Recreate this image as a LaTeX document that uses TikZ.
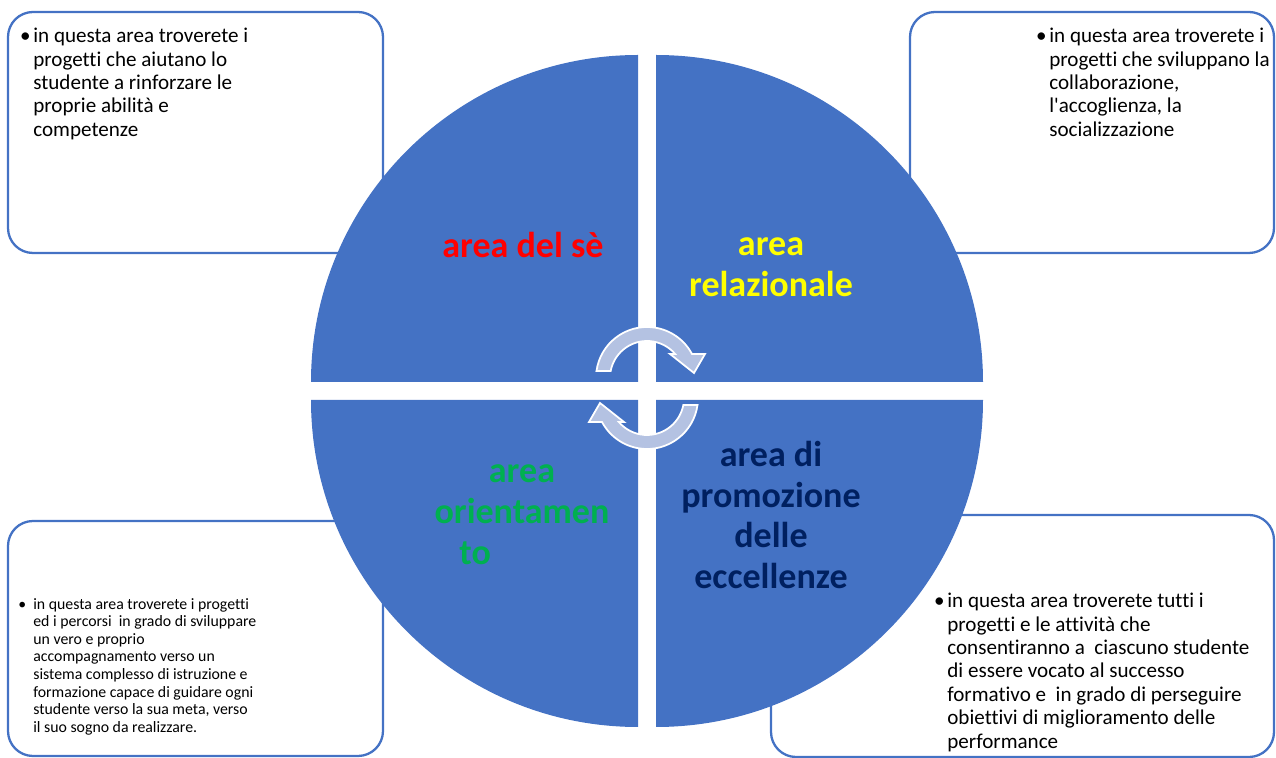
\documentclass[tikz,border=0pt]{standalone}
\usepackage{fontspec}
\setmainfont{Carlito}[Ligatures={TeX,NoCommon}]

\definecolor{quadblue}{HTML}{4472C4}
\definecolor{arrowlight}{HTML}{B4C2E2}
\definecolor{selfred}{HTML}{FF0000}
\definecolor{relyellow}{HTML}{FFFF00}
\definecolor{orientgreen}{HTML}{00B050}
\definecolor{excnavy}{HTML}{002060}

\tikzset{
  infobox/.style={draw=quadblue, line width=1.3pt, rounded corners=0.5cm},
  infotext/.style={anchor=north west, align=left, inner sep=0pt,
    font=\fontsize{12}{13.3}\selectfont},
  smalltext/.style={infotext, font=\fontsize{9}{10}\selectfont},
  arealabel/.style={align=center, inner sep=0pt,
    font=\bfseries\fontsize{20.5}{23.3}\selectfont},
  cyclearrow/.style={fill=arrowlight, draw=white, line width=1pt},
}

\begin{document}
\begin{tikzpicture}[x=0.02cm, y=0.02cm]
  \useasboundingbox (0,0) rectangle (1276,758);

  % Circle dimensions
  \pgfmathsetmacro{\rad}{327}
  \pgfmathsetmacro{\gapHalf}{9}
  \pgfmathsetmacro{\cx}{647}
  \pgfmathsetmacro{\cy}{367}

  % Text boxes (behind the circle)
  \draw[infobox] (8,505) rectangle (383,746);
  \draw[infobox] (910,505) rectangle (1274,746);
  \draw[infobox] (8,2) rectangle (383,237);
  \draw[infobox] (771,1) rectangle (1274,243);

  % Four quarters of the circle
  \fill[quadblue] ({\cx-\gapHalf},{\cy+\gapHalf}) -- ++(90:\rad)
    arc[start angle=90, end angle=180, radius=\rad] -- cycle; % top left
  \fill[quadblue] ({\cx+\gapHalf},{\cy+\gapHalf}) -- ++(0:\rad)
    arc[start angle=0, end angle=90, radius=\rad] -- cycle; % top right
  \fill[quadblue] ({\cx-\gapHalf},{\cy-\gapHalf}) -- ++(180:\rad)
    arc[start angle=180, end angle=270, radius=\rad] -- cycle; % bottom left
  \fill[quadblue] ({\cx+\gapHalf},{\cy-\gapHalf}) -- ++(270:\rad)
    arc[start angle=270, end angle=360, radius=\rad] -- cycle; % bottom right

  % Circular arrows in the middle
  \begin{scope}[shift={(647,380)}]
    \filldraw[cyclearrow] (172.1:51) arc[start angle=172.1, end angle=28.1, radius=51]
      -- (58,24) -- (47,5) -- (23,24) -- (40.4:37)
      arc[start angle=40.4, end angle=169.1, radius=37] -- cycle;
  \end{scope}
  \begin{scope}[shift={(647,360)}, rotate=180]
    \filldraw[cyclearrow] (172.1:51) arc[start angle=172.1, end angle=28.1, radius=51]
      -- (58,24) -- (47,5) -- (23,24) -- (40.4:37)
      arc[start angle=40.4, end angle=169.1, radius=37] -- cycle;
  \end{scope}

  % Area labels
  \node[arealabel, text=selfred] (self) at (523,513) {area del sè};
  \node[arealabel, text=relyellow] (relation) at (771,491) {area\\relazionale};
  \node[arealabel, text=orientgreen] (orient) at (522,243)
    {area\\orientamen\\to\hspace*{2.6em}};
  \node[arealabel, text=excnavy] (excel) at (771,243)
    {area di\\promozione\\delle\\eccellenze};

  % Box texts
  \node[infotext] (selfinfo) at (33,730) {\llap{\textbullet\hspace{1.5pt}}in questa area troverete i\\
    progetti che aiutano lo\\studente a rinforzare le\\proprie abilità e\\competenze};
  \node[infotext] (relationinfo) at (1049,730) {\llap{\textbullet\hspace{1.5pt}}in questa area troverete i\\
    progetti che sviluppano la\\collaborazione,\\l\textquotesingle accoglienza, la\\socializzazione};
  \node[smalltext] (orientinfo) at (33,160) {\llap{\textbullet\hspace{4pt}}in questa area troverete i progetti\\
    ed i percorsi \ in grado di sviluppare\\un vero e proprio\\accompagnamento verso un\\
    sistema complesso di istruzione e\\formazione capace di guidare ogni\\
    studente verso la sua meta, verso\\il suo sogno da realizzare.};
  \node[infotext] (excelinfo) at (947,165) {\llap{\textbullet\hspace{1.5pt}}in questa area troverete tutti i\\
    progetti e le attività che\\consentiranno a \ ciascuno studente\\di essere vocato al successo\\
    formativo e \ in grado di perseguire\\obiettivi di miglioramento delle\\performance};
\end{tikzpicture}
\end{document}
